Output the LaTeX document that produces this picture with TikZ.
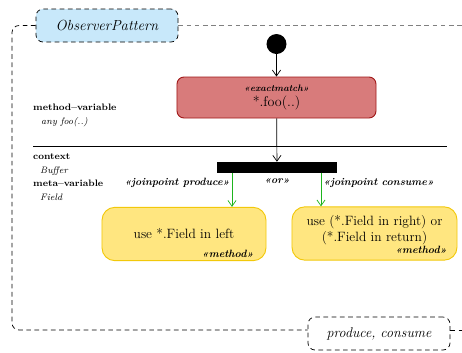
\documentclass[tikz,border=0pt]{standalone}
\usepackage{tikz}
\usetikzlibrary{arrows.meta, positioning}
\definecolor{patblue}{RGB}{200,232,250}
\definecolor{matchred}{RGB}{216,123,123}
\definecolor{matchedge}{RGB}{160,24,24}
\definecolor{adviceyellow}{RGB}{255,230,128}
\definecolor{adviceedge}{RGB}{242,200,10}
\definecolor{joingreen}{RGB}{30,180,30}
\newcommand{\stereo}[1]{«#1»}

\begin{document}
\begin{tikzpicture}[x=0.03cm, y=-0.03cm,
          frame/.style={
              draw=black,
              dash pattern=on 4pt off 3pt,
              line width=0.6pt,
              rounded corners=6pt
            },
          namebox/.style={
              frame,
              minimum width=4.26cm,
              minimum height=0.99cm,
              font=\fontsize{12.5}{15}\selectfont\itshape
            },
          matchbox/.style={
              draw=matchedge,
              fill=matchred,
              rounded corners=6pt,
              line width=0.8pt,
              minimum width=5.97cm,
              minimum height=1.23cm,
              align=center,
              font=\large
            },
          advice/.style={
              draw=adviceedge,
              fill=adviceyellow,
              rounded corners=11pt,
              line width=0.8pt,
              minimum height=1.6cm,
              align=center,
              font=\fontsize{11.5}{14}\selectfont
            },
          tag/.style={font=\small\bfseries\itshape, inner sep=1pt},
          varname/.style={font=\footnotesize\bfseries, anchor=west, inner sep=0pt},
          varval/.style={font=\footnotesize\itshape, anchor=west, inner sep=0pt},
          arr/.style={-{Straight Barb[length=5pt, width=7pt]}, line width=0.6pt},
          joinarr/.style={arr, joingreen}
        ]
        \useasboundingbox (0,0) rectangle (462,352);

        % pattern frame, open on the right
        \node[namebox, fill=patblue] (patname) at (107,25.5) {ObserverPattern};
        \node[namebox, fill=white, font=\large\itshape] (roles) at (379,333.5) {produce, consume};
        \draw[frame] (patname.west) -- (12,25.5) -- (12,330) -- (roles.west |- 0,330);
        \draw[frame, rounded corners=0pt] (roles.east |- 0,330) -- (462,330);
        \draw[frame, draw=gray, rounded corners=0pt] (patname.east) -- (462,25.5);

        % variables
        \node[varname] (mvar) at (33,107) {method--variable};
        \node[varval] (mval) at (41,122) {any foo(..)};
        \draw[line width=0.8pt] (33,146) -- (447,146);
        \node[varname] (ctx) at (33,157) {context};
        \node[varval] (ctxval) at (40,171) {Buffer};
        \node[varname] (metavar) at (33,183) {meta--variable};
        \node[varval] (metaval) at (40,197) {Field};

        % flow
        \node[circle, fill=black, minimum size=0.6cm, inner sep=0pt] (start) at (276.5,44) {};
        \node[matchbox] (exact) at (276.5,97.5) {{\footnotesize\bfseries\itshape \stereo{exactmatch}}\\[-1pt]*.foo(..)};
        \node[fill=black, minimum width=3.6cm, minimum height=0.33cm, inner sep=0pt] (fork) at (277,167.5) {};
        \node[tag] (ortag) at (277,181) {\stereo{or}};

        \node[advice, minimum width=4.92cm] (useleft) at (184,234) {use *.Field in left};
        \node[advice, minimum width=4.95cm] (useright) at (374.5,233.5) {};
        \node[align=center, font=\fontsize{11.5}{14}\selectfont, inner sep=0pt] (righttext) at (374.5,230) {use (*.Field in right) or\\(*.Field in return)};
        \node[tag, anchor=south east] (leftmeth) at ([shift={(-10pt,1.5pt)}]useleft.south east) {\stereo{method}};
        \node[tag, anchor=south east] (rightmeth) at ([shift={(-8pt,5pt)}]useright.south east) {\stereo{method}};

        \node[tag, anchor=east] (prodtag) at (231,183) {\stereo{joinpoint produce}};
        \node[tag, anchor=west] (constag) at (322,183) {\stereo{joinpoint consume}};

        \draw[arr] (start) -- (exact);
        \draw[arr] (exact) -- (fork);
        \draw[joinarr] (fork.south -| 232,0) -- (useleft.north -| 232,0);
        \draw[joinarr] (fork.south -| 321,0) -- (useright.north -| 321,0);
      \end{tikzpicture}
\end{document}
